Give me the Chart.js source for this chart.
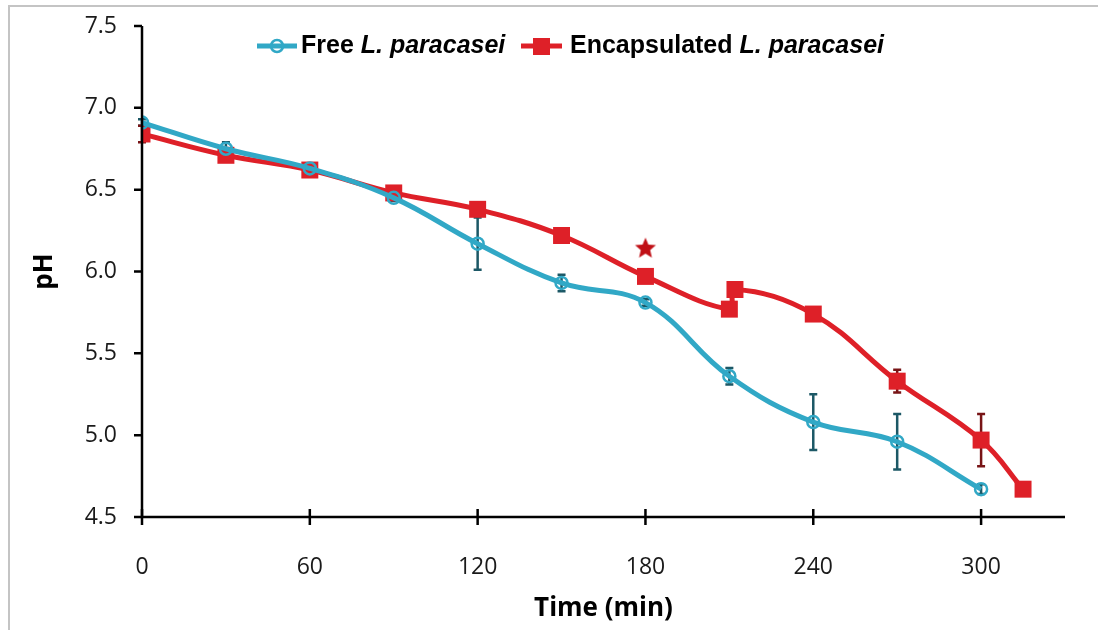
<!DOCTYPE html>
<html>
<head>
<meta charset="utf-8">
<script src="https://cdn.jsdelivr.net/npm/chart.js@4.4.1/dist/chart.umd.min.js"></script>
<style>
  html, body { margin: 0; padding: 0; background: #fff; }
  #wrap { position: relative; width: 1098px; height: 630px; }
</style>
</head>
<body>
<div id="wrap"><canvas id="ph-chart" width="1098" height="630"></canvas></div>
<script>
// Data
const minutesFree = [0, 30, 60, 90, 120, 150, 180, 210, 240, 270, 300];
const phFree      = [6.91, 6.75, 6.63, 6.45, 6.17, 5.93, 5.81, 5.36, 5.08, 4.96, 4.67];
const errFree     = [0.02, 0.04, 0.02, 0.02, 0.16, 0.05, 0.02, 0.05, 0.17, 0.17, 0.03];

const minutesEnc = [0, 30, 60, 90, 120, 150, 180, 210, 212, 240, 270, 300, 315];
const phEnc      = [6.84, 6.71, 6.62, 6.48, 6.38, 6.22, 5.97, 5.77, 5.89, 5.74, 5.33, 4.97, 4.67];
const errEnc     = [0.05, 0.03, 0.02, 0.02, 0.03, 0.02, 0.02, 0.02, 0.02, 0.03, 0.07, 0.16, 0];

const starMinutes = [180];
const starPh      = [6.14];

const xTickValues = [0, 60, 120, 180, 240, 300];
const yTickValues = [4.5, 5.0, 5.5, 6.0, 6.5, 7.0, 7.5];

const BLUE = 'rgb(49, 168, 198)';
const RED = 'rgb(222, 32, 40)';
const BLUE_ERR = 'rgb(28, 88, 102)';
const RED_ERR = 'rgb(120, 20, 22)';

function toPoints(xs, ys) {
    return xs.map((x, i) => ({ x: x, y: ys[i] }));
}

// filled star used as point style
function makeStar(r, color) {
    const c = document.createElement('canvas');
    c.width = c.height = r * 2 + 2;
    const g = c.getContext('2d');
    g.beginPath();
    for (let i = 0; i < 10; i++) {
        const rad = i % 2 === 0 ? r : r * 0.45;
        const a = -Math.PI / 2 + i * Math.PI / 5;
        const px = r + 1 + rad * Math.cos(a);
        const py = r + 1 + rad * Math.sin(a);
        if (i === 0) g.moveTo(px, py); else g.lineTo(px, py);
    }
    g.closePath();
    g.fillStyle = color;
    g.fill();
    return c;
}

// error bars (drawn under the lines)
const errorBars = {
    id: 'errorBars',
    beforeDatasetsDraw(chart) {
        const ctx = chart.ctx;
        const xs = chart.scales.x, ys = chart.scales.y;
        const sets = [
            { xv: minutesFree, yv: phFree, ev: errFree, color: BLUE_ERR },
            { xv: minutesEnc, yv: phEnc, ev: errEnc, color: RED_ERR }
        ];
        ctx.save();
        ctx.lineWidth = 2.5;
        sets.forEach(s => {
            ctx.strokeStyle = s.color;
            s.xv.forEach((m, i) => {
                if (!s.ev[i]) return;
                const px = xs.getPixelForValue(m);
                const top = ys.getPixelForValue(s.yv[i] + s.ev[i]);
                const bot = ys.getPixelForValue(s.yv[i] - s.ev[i]);
                ctx.beginPath();
                ctx.moveTo(px, top); ctx.lineTo(px, bot);
                ctx.moveTo(px - 4, top); ctx.lineTo(px + 4, top);
                ctx.moveTo(px - 4, bot); ctx.lineTo(px + 4, bot);
                ctx.stroke();
            });
        });
        ctx.restore();
    }
};

// axis lines, tick marks, legend, frame
const decorations = {
    id: 'decorations',
    afterDraw(chart) {
        const ctx = chart.ctx;
        const xs = chart.scales.x, ys = chart.scales.y;
        const area = chart.chartArea;
        ctx.save();
        ctx.strokeStyle = '#000';
        ctx.lineWidth = 2.5;
        ctx.beginPath();
        ctx.moveTo(area.left, area.top);
        ctx.lineTo(area.left, area.bottom);
        ctx.lineTo(area.right, area.bottom);
        ctx.stroke();
        ctx.beginPath();
        yTickValues.forEach(v => {
            const py = ys.getPixelForValue(v);
            ctx.moveTo(area.left - 8, py); ctx.lineTo(area.left, py);
        });
        xTickValues.forEach(v => {
            const px = xs.getPixelForValue(v);
            ctx.moveTo(px, area.bottom - 8); ctx.lineTo(px, area.bottom + 8);
        });
        ctx.stroke();

        // frame lines at top and left edges
        ctx.strokeStyle = '#c4c4c4';
        ctx.lineWidth = 2;
        ctx.beginPath();
        ctx.moveTo(9, 630); ctx.lineTo(9, 6); ctx.lineTo(1098, 6);
        ctx.stroke();

        // legend
        const ly = 46;
        ctx.lineWidth = 5;
        ctx.strokeStyle = BLUE;
        ctx.beginPath(); ctx.moveTo(257, ly); ctx.lineTo(297, ly); ctx.stroke();
        ctx.lineWidth = 2.5;
        ctx.beginPath(); ctx.arc(277, ly, 6, 0, Math.PI * 2); ctx.stroke();
        ctx.strokeStyle = RED;
        ctx.lineWidth = 5;
        ctx.beginPath(); ctx.moveTo(521, ly); ctx.lineTo(562, ly); ctx.stroke();
        ctx.fillStyle = RED;
        ctx.fillRect(533, ly - 8, 17, 17);

        ctx.fillStyle = '#000';
        ctx.textBaseline = 'middle';
        const bold = 'bold 25px "Liberation Sans", Arial, sans-serif';
        const boldIt = 'italic bold 25px "Liberation Sans", Arial, sans-serif';
        let x = 301;
        ctx.font = bold; ctx.fillText('Free ', x, ly); x += ctx.measureText('Free ').width;
        ctx.font = boldIt; ctx.fillText('L. paracasei', x, ly);
        x = 570;
        ctx.font = bold; ctx.fillText('Encapsulated ', x, ly); x += ctx.measureText('Encapsulated ').width;
        ctx.font = boldIt; ctx.fillText('L. paracasei', x, ly);
        ctx.restore();
    }
};

const ctx = document.getElementById('ph-chart').getContext('2d');
new Chart(ctx, {
    type: 'scatter',
    data: {
        datasets: [{
            label: 'Free L. paracasei',
            data: toPoints(minutesFree, phFree),
            showLine: true,
            borderColor: BLUE,
            borderWidth: 5,
            tension: 0.4,
            pointStyle: 'circle',
            pointRadius: 6,
            pointBorderWidth: 2.5,
            pointBorderColor: BLUE,
            pointBackgroundColor: 'rgba(0,0,0,0)'
        }, {
            label: 'Encapsulated L. paracasei',
            data: toPoints(minutesEnc, phEnc),
            showLine: true,
            borderColor: RED,
            borderWidth: 5,
            tension: 0.4,
            pointStyle: 'rect',
            pointRadius: 12,
            pointBorderWidth: 0,
            pointBackgroundColor: RED
        }, {
            label: 'significance',
            data: toPoints(starMinutes, starPh),
            showLine: false,
            pointStyle: makeStar(11, 'rgb(192, 16, 22)'),
            pointRadius: 11
        }]
    },
    options: {
        responsive: false,
        animation: false,
        layout: { padding: { left: 20, right: 33, top: 26, bottom: 0 } },
        plugins: {
            legend: { display: false },
            tooltip: { enabled: false }
        },
        scales: {
            x: {
                type: 'linear',
                min: 0,
                max: 330,
                grid: { display: false, drawTicks: false },
                border: { display: false },
                ticks: {
                    stepSize: 60,
                    padding: 37,
                    color: '#1a1a1a',
                    font: { family: '"Open Sans", sans-serif', size: 23 }
                },
                afterBuildTicks(scale) {
                    scale.ticks = xTickValues.map(v => ({ value: v }));
                },
                afterFit(scale) {
                    scale.height = 113;
                    scale.paddingLeft = 0;
                    scale.paddingRight = 0;
                },
                title: {
                    display: true,
                    text: 'Time (min)',
                    color: '#000',
                    padding: { top: 0, bottom: 6 },
                    font: { family: '"Open Sans", sans-serif', size: 26, weight: 'bold' }
                }
            },
            y: {
                min: 4.5,
                max: 7.5,
                grid: { display: false, drawTicks: false },
                border: { display: false },
                ticks: {
                    stepSize: 0.5,
                    padding: 25,
                    color: '#1a1a1a',
                    font: { family: '"Open Sans", sans-serif', size: 23 },
                    callback: v => v.toFixed(1)
                },
                afterBuildTicks(scale) {
                    scale.ticks = yTickValues.map(v => ({ value: v }));
                },
                afterFit(scale) {
                    scale.width = 122;
                    scale.paddingTop = 0;
                    scale.paddingBottom = 0;
                },
                title: {
                    display: true,
                    text: 'pH',
                    color: '#000',
                    padding: { top: 9, bottom: 0 },
                    font: { family: '"Open Sans", sans-serif', size: 26, weight: 'bold' }
                }
            }
        }
    },
    plugins: [errorBars, decorations]
});
</script>
</body>
</html>
